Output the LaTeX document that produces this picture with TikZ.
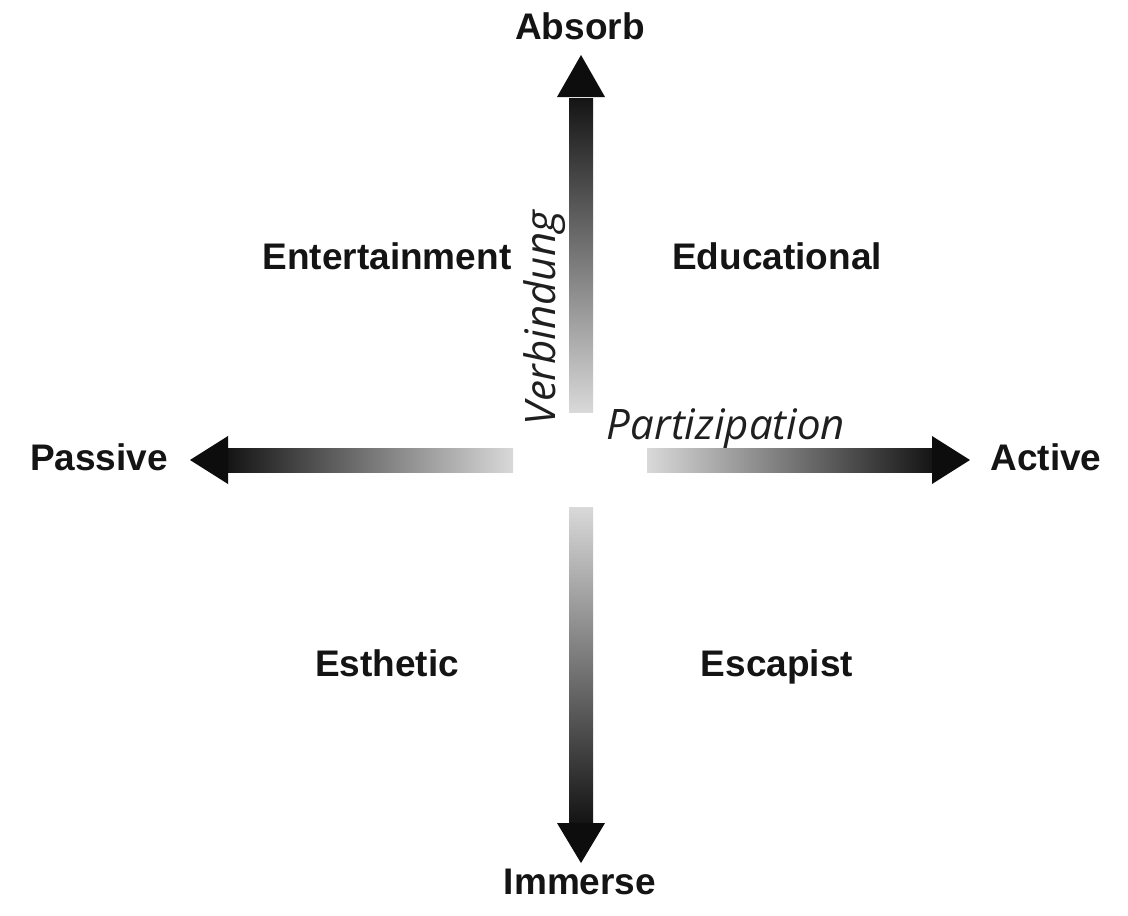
\documentclass[tikz,border=0pt]{standalone}
\usepackage{fontspec}
\setmainfont{Liberation Sans}
\newfontfamily\osfont{Open Sans}
\usetikzlibrary{calc}
\begin{document}
\begin{tikzpicture}[x=1pt,y=-1pt,
  lbl/.style={font=\fontsize{37}{40}\selectfont\bfseries, text=black!92, inner sep=0pt, anchor=base},
  axlbl/.style={font=\osfont\itshape\fontsize{42}{46}\selectfont, text=black!88, inner sep=0pt, anchor=base},
  headfill/.style={fill=black!95, draw=none}]
\useasboundingbox[fill=white] (0,0) rectangle (1128,916);
% labels
\node[lbl] (absorb) at (580,39) {Absorb};
\node[lbl] (immerse) at (580,894) {Immerse};
\node[lbl] (passive) at (99,470) {Passive};
\node[lbl] (active) at (1046,470) {Active};
\node[lbl] (entertainment) at (387,269) {Entertainment};
\node[lbl] (educational) at (777,269) {Educational};
\node[lbl] (esthetic) at (387,676) {Esthetic};
\node[lbl] (escapist) at (777,676) {Escapist};
\node[axlbl, rotate=90] (verbindung) at (555,318) {Verbindung};
\node[axlbl] (partizipation) at (726,439) {Partizipation};
% arrow geometry
\coordinate (upTip) at (581,55);
\coordinate (upBase) at (581,97);
\coordinate (upEnd) at (581,412);
\coordinate (dnTip) at (581,863);
\coordinate (dnBase) at (581,823);
\coordinate (dnEnd) at (581,507);
\coordinate (lfTip) at (190,460);
\coordinate (lfBase) at (228,460);
\coordinate (lfEnd) at (513,460);
\coordinate (rtTip) at (970,460);
\coordinate (rtBase) at (932,460);
\coordinate (rtEnd) at (647,460);
% shafts
\shade[top color=black!92, bottom color=black!15] ($(upBase)+(-12,1)$) rectangle ($(upEnd)+(12,0)$);
\shade[top color=black!15, bottom color=black!92] ($(dnEnd)+(-12,0)$) rectangle ($(dnBase)+(12,-1)$);
\shade[left color=black!92, right color=black!15] ($(lfBase)+(-1,-12)$) rectangle ($(lfEnd)+(0,12)$);
\shade[left color=black!15, right color=black!92] ($(rtEnd)+(0,-12)$) rectangle ($(rtBase)+(1,12)$);
% heads
\path[headfill] (upTip) -- ($(upBase)+(-24,0)$) -- ($(upBase)+(24,0)$) -- cycle;
\path[headfill] (dnTip) -- ($(dnBase)+(-24,0)$) -- ($(dnBase)+(24,0)$) -- cycle;
\path[headfill] (lfTip) -- ($(lfBase)+(0,-24)$) -- ($(lfBase)+(0,24)$) -- cycle;
\path[headfill] (rtTip) -- ($(rtBase)+(0,-24)$) -- ($(rtBase)+(0,24)$) -- cycle;
\end{tikzpicture}
\end{document}
